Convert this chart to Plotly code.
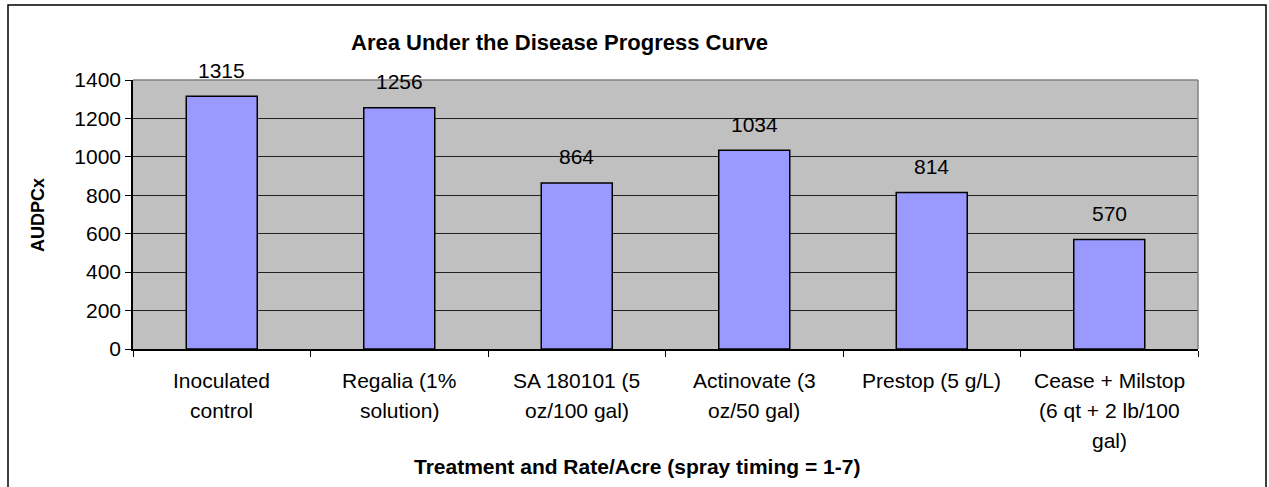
import plotly.graph_objects as go

categories = [
    "Inoculated<br>control",
    "Regalia (1%<br>solution)",
    "SA 180101 (5<br>oz/100 gal)",
    "Actinovate (3<br>oz/50 gal)",
    "Prestop (5 g/L)",
    "Cease + Milstop<br>(6 qt + 2 lb/100<br>gal)",
]
values = [1315, 1256, 864, 1034, 814, 570]
y_ticks = [0, 200, 400, 600, 800, 1000, 1200, 1400]

title_text = "Area Under the Disease Progress Curve"
x_title = "Treatment and Rate/Acre (spray timing = 1-7)"
y_title = "AUDPCx"

FONT = "Liberation Sans, Arial, sans-serif"
W, H = 1269, 487
L, R, T, B = 133, 71, 80, 138
PW, PH = W - L - R, H - T - B


def px_x(x):
    return (x - L) / PW


def px_y(y):
    return (H - B - y) / PH


fig = go.Figure()
fig.add_trace(go.Bar(
    x=list(range(len(categories))), y=values, width=0.4,
    marker=dict(color="#9999FF", line=dict(color="black", width=1.5)),
    hoverinfo="y",
))

ann = []
for i, v in enumerate(values):
    ann.append(dict(x=i, y=v, xref="x", yref="y", text=str(v), showarrow=False,
                    yanchor="middle", yshift=26, font=dict(size=21, color="black", family=FONT)))
for i, c in enumerate(categories):
    for j, line in enumerate(c.split("<br>")):
        ann.append(dict(x=i, y=0, xref="x", yref="paper", text=line, showarrow=False,
                        yanchor="middle", yshift=-(31 + 30 * j),
                        font=dict(size=21, color="black", family=FONT)))
ann.append(dict(x=px_x(559), y=px_y(43), xref="paper", yref="paper", text="<b>%s</b>" % title_text,
                showarrow=False, xanchor="center", yanchor="middle",
                font=dict(size=22, color="black", family=FONT)))
ann.append(dict(x=px_x(412), y=px_y(466), xref="paper", yref="paper", text="<b>%s</b>" % x_title,
                showarrow=False, xanchor="left", yanchor="middle",
                font=dict(size=21, color="black", family=FONT)))
ann.append(dict(x=px_x(38), y=px_y(215), xref="paper", yref="paper", text="<b>%s</b>" % y_title,
                showarrow=False, xanchor="center", yanchor="middle", textangle=-90,
                font=dict(size=18, color="black", family=FONT)))

shapes = [
    # outer chart border
    dict(type="rect", xref="paper", yref="paper", x0=px_x(8), x1=px_x(1266), y0=px_y(5), y1=px_y(530),
         line=dict(color="black", width=1.5), fillcolor="rgba(0,0,0,0)", layer="above"),
    # plot-area top and right border (grey)
    dict(type="line", xref="paper", yref="paper", x0=0, x1=1, y0=1, y1=1,
         line=dict(color="#808080", width=1.5)),
    dict(type="line", xref="paper", yref="paper", x0=1, x1=1, y0=0, y1=1,
         line=dict(color="#808080", width=1.5)),
]

fig.update_layout(
    width=W, height=H,
    margin=dict(l=L, r=R, t=T, b=B, pad=0),
    paper_bgcolor="white", plot_bgcolor="#C0C0C0",
    showlegend=False,
    annotations=ann, shapes=shapes,
    font=dict(family=FONT, size=21, color="black"),
    xaxis=dict(range=[-0.5, len(categories) - 0.5], tickmode="array",
               tickvals=[i - 0.5 for i in range(len(categories) + 1)],
               ticktext=[""] * (len(categories) + 1),
               ticks="outside", ticklen=6, tickcolor="black", tickwidth=1,
               showline=True, linecolor="black", linewidth=1.5, showgrid=False, zeroline=False),
    yaxis=dict(range=[0, 1400], tickmode="array", tickvals=y_ticks,
               ticktext=[str(t) for t in y_ticks],
               ticks="outside", ticklen=6, tickcolor="black", tickwidth=1,
               tickfont=dict(size=21, family=FONT, color="black"),
               showline=True, linecolor="black", linewidth=1.5,
               showgrid=True, gridcolor="#222222", gridwidth=1, zeroline=False),
)

fig.write_html("out.html", config={"displayModeBar": False},
               post_script="document.body.style.margin='0';document.body.style.overflow='hidden';")
